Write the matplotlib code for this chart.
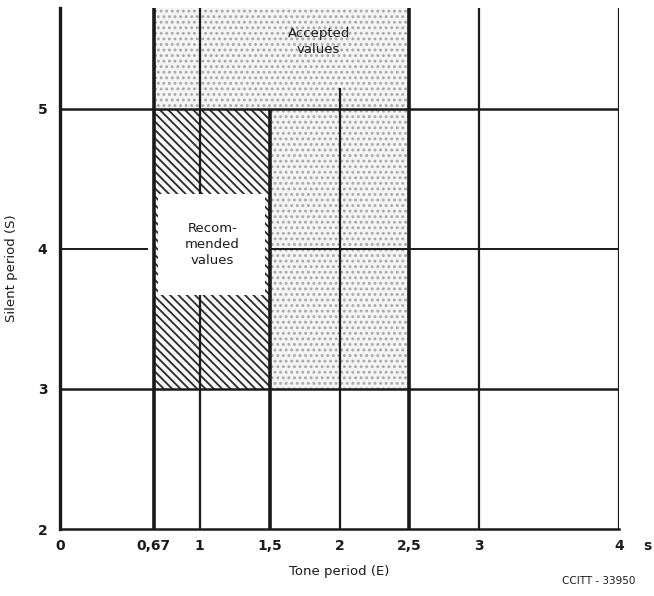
import matplotlib
matplotlib.use("Agg")
import matplotlib.pyplot as plt

# оси: период тона (E) и период паузы (S), секунды
tone_ticks = [0, 0.67, 1, 1.5, 2, 2.5, 3, 4]
tone_labels = ["0", "0,67", "1", "1,5", "2", "2,5", "3", "4"]
silent_ticks = [2, 3, 4, 5]
silent_labels = ["2", "3", "4", "5"]

# области значений
accepted_tone = [0.67, 2.5]
accepted_silent = [3, 5.72]
recommended_tone = [0.67, 1.5]
recommended_silent = [3, 5]
text_gap = [3.67, 4.39]   # белое окно под надписью "Recommended values"

# линии сетки: (x, y_from, y_to, толщина)
v_lines = [
    (0.67, 2, 5.72, 2.6),
    (1, 2, 3.67, 1.6),
    (1, 4.39, 5.72, 1.6),
    (1.5, 2, 5, 2.6),
    (2, 2, 5.15, 1.6),
    (2.5, 2, 5.72, 2.6),
    (3, 2, 5.72, 1.6),
    (4, 2, 5.72, 1.6),
]
# (y, x_from, x_to, толщина)
h_lines = [
    (3, 0, 4, 1.8),
    (4, 0, 0.63, 1.4),
    (4, 1.5, 4, 1.4),
    (5, 0, 4, 1.8),
]

ink = "#1a1a1a"
plt.rcParams["font.family"] = ["DejaVu Sans"]
plt.rcParams["hatch.linewidth"] = 1.3

fig = plt.figure(figsize=(6.54, 5.96), dpi=100)
ax = fig.add_axes([0.0917, 0.1124, 0.855, 0.874])
ax.set_xlim(0, 4)
ax.set_ylim(2, 5.72)

# допустимые значения - точечная заливка
ax.fill_between(accepted_tone, accepted_silent[0], accepted_silent[1],
                facecolor="#f4f4f4", edgecolor="#a8a8a8", hatch="...",
                linewidth=0, zorder=1)

# рекомендуемые значения - штриховка
ax.fill_between(recommended_tone, recommended_silent[0], recommended_silent[1],
                facecolor="#f7f7f7", edgecolor="#2a2a2a", hatch="\\\\\\\\",
                linewidth=0, zorder=2)
ax.fill_between([recommended_tone[0] + 0.03, recommended_tone[1] - 0.03],
                text_gap[0], text_gap[1], facecolor="white",
                linewidth=0, zorder=3)

for x, y0, y1, lw in v_lines:
    ax.plot([x, x], [y0, y1], color=ink, lw=lw, solid_capstyle="butt", zorder=4)
for y, x0, x1, lw in h_lines:
    ax.plot([x0, x1], [y, y], color=ink, lw=lw, solid_capstyle="butt", zorder=4)

for side in ["top", "right"]:
    ax.spines[side].set_visible(False)
ax.spines["left"].set_linewidth(2.4)
ax.spines["bottom"].set_linewidth(1.8)
ax.spines["left"].set_color(ink)
ax.spines["bottom"].set_color(ink)

ax.set_xticks(tone_ticks)
ax.set_xticklabels(tone_labels)
ax.set_yticks(silent_ticks)
ax.set_yticklabels(silent_labels)
ax.tick_params(length=0, labelsize=10, colors=ink)
ax.tick_params(axis="x", pad=7)
ax.tick_params(axis="y", pad=9)
for lab in ax.get_xticklabels() + ax.get_yticklabels():
    lab.set_fontweight("bold")

# единица измерения справа от последней метки
ax.text(4.2, -0.0185, "s", transform=ax.get_xaxis_transform(),
        ha="center", va="top", fontsize=10, fontweight="bold", color=ink)

ax.text(1.85, 5.48, "Accepted\nvalues", ha="center", va="center",
        fontsize=9.5, color=ink, zorder=5, linespacing=1.3)
ax.text(1.09, 4.03, "Recom-\nmended\nvalues", ha="center", va="center",
        fontsize=9.5, color=ink, zorder=5, linespacing=1.3)

ax.set_xlabel("Tone period (E)", fontsize=9.5, color=ink, labelpad=9)
ax.set_ylabel("Silent period (S)", fontsize=9.5, color=ink, labelpad=14)

fig.text(0.915, 0.016, "CCITT - 33950", ha="center", va="bottom",
         fontsize=7.5, color=ink)

fig.savefig("out.png", dpi=100, facecolor="white")
